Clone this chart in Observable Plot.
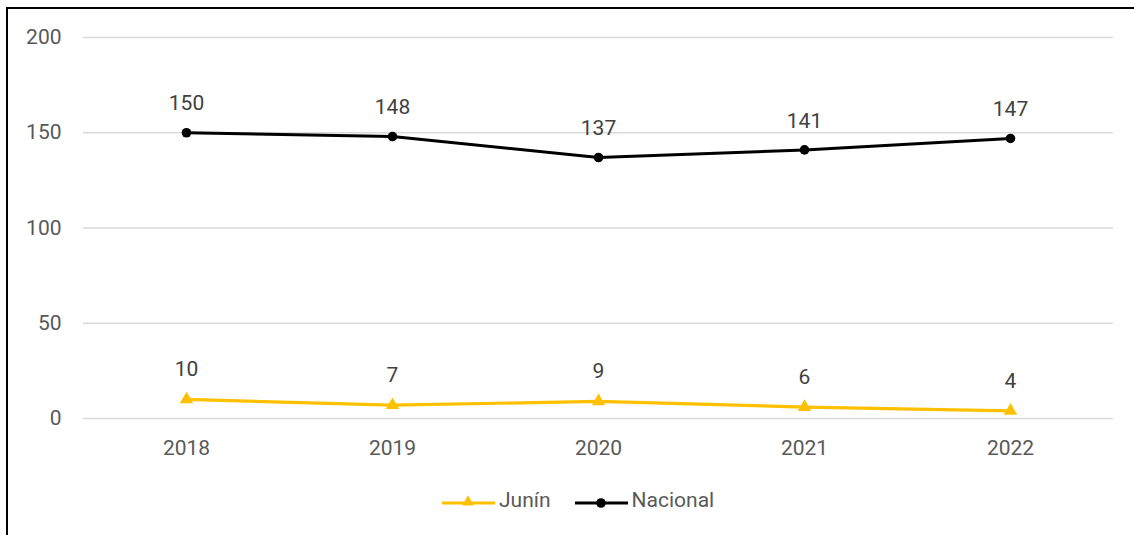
<!DOCTYPE html>
<html>
<head>
<meta charset="utf-8">
<script src="https://cdn.jsdelivr.net/npm/d3@7"></script>
<script src="https://cdn.jsdelivr.net/npm/@observablehq/plot@0.6"></script>
<style>
  html, body { margin: 0; padding: 0; background: #fff; overflow: hidden; }
  body { width: 1134px; height: 535px; position: relative; font-family: Roboto, "Open Sans", sans-serif; }
  #frame { position: absolute; left: 6px; top: 7px; width: 1200px; height: 600px; border: 2px solid #000; box-sizing: border-box; pointer-events: none; }
  #chart { position: absolute; left: 0; top: 0; }
  #legend { position: absolute; top: 488px; left: 441px; display: flex; align-items: center; font-size: 21px; color: #595959; }
  .item { display: flex; align-items: center; }
  .item svg { display: block; margin-right: 3px; }
</style>
</head>
<body>
<div id="chart"></div>
<div id="frame"></div>
<div id="legend"></div>
<script>
const years = ["2018", "2019", "2020", "2021", "2022"];
const junin = [10, 7, 9, 6, 4];
const nacional = [150, 148, 137, 141, 147];
const yTicks = [0, 50, 100, 150, 200];
const seriesNames = ["Junín", "Nacional"];
const seriesColors = ["#FFC000", "#000000"];

const juninData = years.map((y, i) => ({year: y, value: junin[i]}));
const nacionalData = years.map((y, i) => ({year: y, value: nacional[i]}));

const chart = Plot.plot({
  width: 1134,
  height: 535,
  marginLeft: 83,
  marginRight: 21,
  marginTop: 37,
  marginBottom: 117,
  style: { fontFamily: "Roboto, 'Open Sans', sans-serif", background: "transparent" },
  x: { type: "point", domain: years, padding: 0.5 },
  y: { domain: [0, 200] },
  marks: [
    Plot.ruleY(yTicks, { stroke: "#d9d9d9", strokeWidth: 1.5 }),
    Plot.axisY({ ticks: yTicks, tickSize: 0, tickPadding: 22, fontSize: 21, fill: "#595959", label: null }),
    Plot.axisX({ tickSize: 0, tickPadding: 22, fontSize: 21, fill: "#595959", label: null }),
    Plot.line(nacionalData, { x: "year", y: "value", stroke: seriesColors[1], strokeWidth: 3 }),
    Plot.dot(nacionalData, { x: "year", y: "value", fill: seriesColors[1], r: 4.8, symbol: "circle" }),
    Plot.line(juninData, { x: "year", y: "value", stroke: seriesColors[0], strokeWidth: 3.2 }),
    Plot.dot(juninData, { x: "year", y: "value", fill: seriesColors[0], r: 5, symbol: "triangle" }),
    Plot.text(nacionalData, { x: "year", y: "value", text: d => String(d.value), dy: -29, fontSize: 21, fill: "#404040" }),
    Plot.text(juninData, { x: "year", y: "value", text: d => String(d.value), dy: -30, fontSize: 21, fill: "#404040" })
  ]
});
document.getElementById("chart").appendChild(chart);

// Legend
const legend = d3.select("#legend");
seriesNames.forEach((name, i) => {
  const item = legend.append("div").attr("class", "item").style("margin-right", i === 0 ? "23px" : "0px");
  const svg = item.append("svg").attr("width", 55).attr("height", 20);
  svg.append("line").attr("x1", 1).attr("x2", 54).attr("y1", 13).attr("y2", 13)
    .attr("stroke", seriesColors[i]).attr("stroke-width", 3.2);
  if (i === 0) {
    svg.append("path").attr("d", d3.symbol(d3.symbolTriangle, 60)()).attr("transform", "translate(27,12)")
      .attr("fill", seriesColors[i]);
  } else {
    svg.append("circle").attr("cx", 27).attr("cy", 13).attr("r", 4.8).attr("fill", seriesColors[i]);
  }
  item.append("span").text(name);
});
</script>
</body>
</html>
